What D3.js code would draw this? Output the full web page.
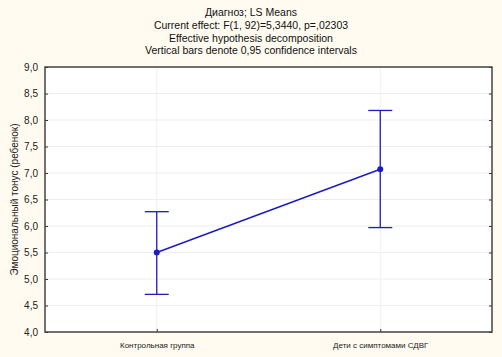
<!DOCTYPE html>
<html>
<head>
<meta charset="utf-8">
<script src="https://cdn.jsdelivr.net/npm/d3@7"></script>
<style>
  body { margin: 0; background: #fffbf0; }
  svg { display: block; font-family: "Liberation Sans", Arial, sans-serif; }
</style>
</head>
<body>
<div id="chart"></div>
<script>
const titleLines = [
  "Диагноз; LS Means",
  "Current effect: F(1, 92)=5,3440, p=,02303",
  "Effective hypothesis decomposition",
  "Vertical bars denote 0,95 confidence intervals"
];
const groups = ["Контрольная группа", "Дети с симптомами СДВГ"];
const means = [5.50, 7.07];
const lower = [4.71, 5.97];
const upper = [6.27, 8.18];
const yTicks = [4.0, 4.5, 5.0, 5.5, 6.0, 6.5, 7.0, 7.5, 8.0, 8.5, 9.0];
const yLabel = "Эмоциональный тонус (ребенок)";

const width = 502;
const height = 357;
const margin = { top: 67, right: 10, bottom: 25, left: 45 };
const lineColor = "#1c1cc4";

const svg = d3.select("#chart")
  .append("svg")
  .attr("width", width)
  .attr("height", height);

svg.append("rect")
  .attr("width", width)
  .attr("height", height)
  .attr("fill", "#fffbf0");

const x = d3.scalePoint()
  .domain(groups)
  .range([margin.left, width - margin.right])
  .padding(0.5);

const y = d3.scaleLinear()
  .domain([4, 9])
  .range([height - margin.bottom, margin.top]);

// plot area
svg.append("rect")
  .attr("x", margin.left)
  .attr("y", margin.top)
  .attr("width", width - margin.left - margin.right)
  .attr("height", height - margin.top - margin.bottom)
  .attr("fill", "#ffffff");

// grid
svg.append("g")
  .selectAll("line")
  .data(yTicks)
  .enter()
  .append("line")
  .attr("x1", margin.left)
  .attr("x2", width - margin.right)
  .attr("y1", d => y(d))
  .attr("y2", d => y(d))
  .attr("stroke", "#ededed");

svg.append("g")
  .selectAll("line")
  .data(groups)
  .enter()
  .append("line")
  .attr("x1", d => x(d))
  .attr("x2", d => x(d))
  .attr("y1", margin.top)
  .attr("y2", height - margin.bottom)
  .attr("stroke", "#f0f0f0");

// title
svg.append("g")
  .selectAll("text")
  .data(titleLines)
  .enter()
  .append("text")
  .attr("x", width / 2)
  .attr("y", (d, i) => 16 + i * 12.8)
  .attr("text-anchor", "middle")
  .attr("font-size", "10.5px")
  .attr("fill", "#111")
  .text(d => d);

// axes
const yAxisLeft = d3.axisLeft(y)
  .tickValues(yTicks)
  .tickSize(-3)
  .tickPadding(7)
  .tickFormat(d => d3.format(".1f")(d).replace(".", ","));

svg.append("g")
  .attr("transform", `translate(${margin.left},0)`)
  .call(yAxisLeft)
  .call(g => g.select(".domain").remove())
  .call(g => g.selectAll("line").attr("stroke", "#333"))
  .call(g => g.selectAll("text").attr("font-size", "10px").attr("fill", "#222")
    .style("font-family", "'Liberation Sans', Arial, sans-serif"));

const yAxisRight = d3.axisRight(y)
  .tickValues(yTicks)
  .tickSize(-3)
  .tickFormat("");

svg.append("g")
  .attr("transform", `translate(${width - margin.right},0)`)
  .call(yAxisRight)
  .call(g => g.select(".domain").remove())
  .call(g => g.selectAll("line").attr("stroke", "#333"));

const xAxis = d3.axisBottom(x)
  .tickSize(-3)
  .tickPadding(10);

svg.append("g")
  .attr("transform", `translate(0,${height - margin.bottom})`)
  .call(xAxis)
  .call(g => g.select(".domain").remove())
  .call(g => g.selectAll("line").attr("stroke", "#333"))
  .call(g => g.selectAll("text").attr("font-size", "8px").attr("fill", "#222")
    .style("font-family", "'Liberation Sans', Arial, sans-serif"));

// frame
svg.append("rect")
  .attr("x", margin.left)
  .attr("y", margin.top)
  .attr("width", width - margin.left - margin.right)
  .attr("height", height - margin.top - margin.bottom)
  .attr("fill", "none")
  .attr("stroke", "#444")
  .attr("stroke-width", 1.5);

// y label
svg.append("text")
  .attr("transform", `translate(14,${(margin.top + height - margin.bottom) / 2}) rotate(-90)`)
  .attr("text-anchor", "middle")
  .attr("dy", "0.35em")
  .attr("font-size", "10px")
  .attr("fill", "#222")
  .text(yLabel);

// error bars
const bars = svg.append("g");
groups.forEach((g, i) => {
  bars.append("line")
    .attr("x1", x(g)).attr("x2", x(g))
    .attr("y1", y(lower[i])).attr("y2", y(upper[i]))
    .attr("stroke", lineColor).attr("stroke-width", 1.3);
  [lower[i], upper[i]].forEach(v => {
    bars.append("line")
      .attr("x1", x(g) - 12).attr("x2", x(g) + 12)
      .attr("y1", y(v)).attr("y2", y(v))
      .attr("stroke", lineColor).attr("stroke-width", 1.3);
  });
});

// means line
const line = d3.line()
  .x((d, i) => x(groups[i]))
  .y(d => y(d));

svg.append("path")
  .datum(means)
  .attr("d", line)
  .attr("fill", "none")
  .attr("stroke", lineColor)
  .attr("stroke-width", 1.5);

svg.append("g")
  .selectAll("circle")
  .data(means)
  .enter()
  .append("circle")
  .attr("cx", (d, i) => x(groups[i]))
  .attr("cy", d => y(d))
  .attr("r", 3)
  .attr("fill", lineColor);
</script>
</body>
</html>
